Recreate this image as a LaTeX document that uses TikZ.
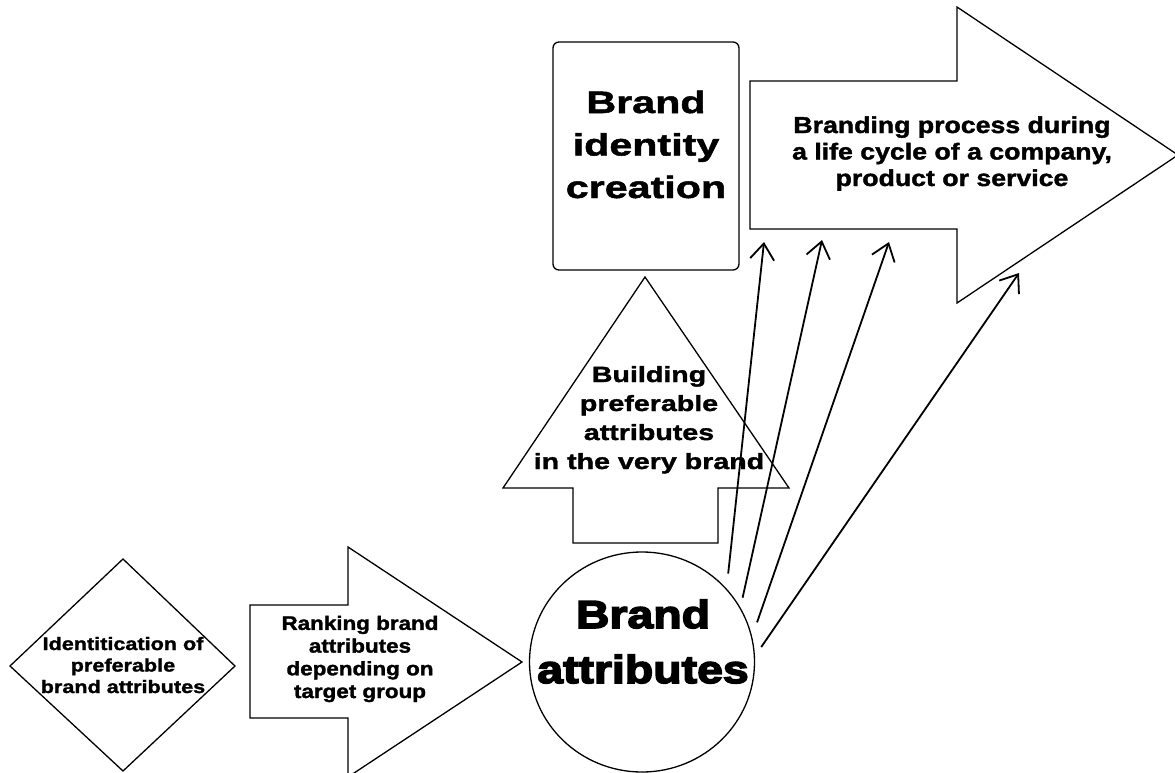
\documentclass[tikz,border=0pt]{standalone}
\usepackage{fontspec}
\usetikzlibrary{arrows.meta,shapes.geometric}
\setmainfont{Liberation Sans}
% Bold sans families, widened to the proportions of each label block
\newfontfamily\fdiam[FakeStretch=1.2,FakeBold=1.6]{Liberation Sans}
\newfontfamily\frank[FakeStretch=1.15,FakeBold=1.6]{Liberation Sans}
\newfontfamily\fbuild[FakeStretch=1.3,FakeBold=1.6]{Liberation Sans}
\newfontfamily\fident[FakeStretch=1.33,FakeBold=1.6]{Liberation Sans}
\newfontfamily\fproc[FakeStretch=1.16,FakeBold=1.6]{Liberation Sans}
\newfontfamily\fheavy[FakeStretch=1.19,FakeBold=4]{Liberation Sans}
\begin{document}
\begin{tikzpicture}[x=1pt,y=-1pt,
  outline/.style={draw=black,line width=1.3pt,line join=miter,fill=white},
  label/.style={inner sep=0pt,align=center,anchor=base},
  conn/.style={draw=black,line width=1.8pt,-{Straight Barb[length=16pt,width=24pt,line width=1.8pt]}}]
\clip (0,0) rectangle (1175,773);
\fill[white] (0,0) rectangle (1175,773);

% diamond: identification step (labels are anchored at the last baseline)
\draw[outline] (123,559) -- (235,666) -- (123,771) -- (10,666) -- cycle;
\node[label,font=\fdiam\bfseries\fontsize{18}{21.5}\selectfont] (ident) at (123,693)
  {Identitication of\\preferable\\brand attributes};

% right arrow: ranking step
\draw[outline] (250,605) -- (348,605) -- (348,547) -- (522,662) -- (348,777)
  -- (348,718) -- (250,718) -- cycle;
\node[label,font=\frank\bfseries\fontsize{19.5}{22.7}\selectfont] (rank) at (360,698)
  {Ranking brand\\attributes\\depending on\\target group};

% circle: brand attributes
\node[ellipse,draw=black,line width=1.3pt,minimum width=225pt,minimum height=220pt,
  inner sep=0pt] (attr) at (642,662) {};
\node[label,font=\fheavy\bfseries\fontsize{39}{55}\selectfont] (attrtext) at (643,683)
  {Brand\\attributes};

% up arrow: building attributes
\draw[outline] (573,543) -- (573,488) -- (503,488) -- (645,277) -- (789,488)
  -- (718,488) -- (718,543) -- cycle;
\node[label,font=\fbuild\bfseries\fontsize{22}{29}\selectfont] (build) at (649,469)
  {Building\\preferable\\attributes\\in the very brand};

% rounded box: identity creation
\draw[outline,rounded corners=6pt] (553,42) rectangle (739,270);
\node[label,font=\fident\bfseries\fontsize{31}{42.5}\selectfont] (identity) at (646,198)
  {Brand\\identity\\creation};

% big arrow: branding process
\draw[outline] (750,81) -- (957,81) -- (957,7) -- (1178,155) -- (957,303)
  -- (957,229) -- (750,229) -- cycle;
\node[label,font=\fproc\bfseries\fontsize{23}{26.5}\selectfont] (process) at (952,186)
  {Branding process during\\a life cycle of a company,\\product or service};

% connectors from the brand attributes circle
\coordinate (e1) at (764,242);
\coordinate (e2) at (822,240);
\coordinate (e3) at (889,242);
\coordinate (e4) at (1019,273);
\draw[conn,shorten <=15pt] (attr.41.5) -- (e1);
\draw[conn,shorten <=10pt] (attr.29.7) -- (e2);
\draw[conn,shorten <=15pt] (attr.13.3) -- (e3);
\draw[conn,shorten <=11pt] (attr.3.1) -- (e4);
\end{tikzpicture}
\end{document}
